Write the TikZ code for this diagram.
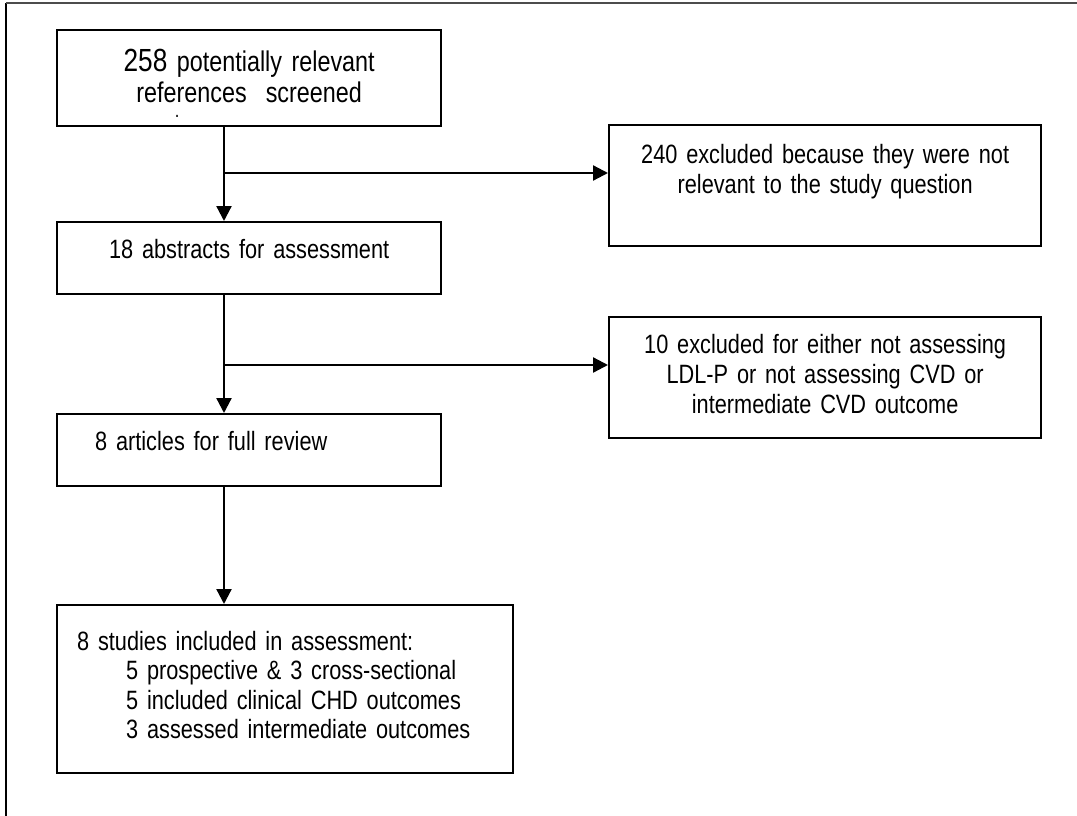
\documentclass[tikz,border=0pt]{standalone}
\usepackage{fontspec}
\setmainfont{Liberation Sans}[FakeStretch=0.82,WordSpace=0.85]
\usetikzlibrary{arrows.meta}

\tikzset{
    stage/.style={shape=rectangle,draw=black,line width=2.3pt,anchor=north west,
        inner sep=0pt,align=center,font=\fontsize{26.5}{30}\selectfont},
    stageleft/.style={stage,align=left}
}

\begin{document}
\begin{tikzpicture}[x=1pt,y=-1pt]
    \useasboundingbox (0,0) rectangle (1077,816);
    \draw[line width=2pt,black] (6,816) -- (6,3);
    \draw[line width=1.5pt,black!70] (6,3) -- (1077,3);

    \node[stage,text width=384pt,text height=41pt,text depth=55pt,
        font=\fontsize{28.5}{31}\selectfont] (screened) at (56,29)
        {{\fontsize{32}{31}\selectfont 258} potentially relevant\\references\ \ screened\\[-16pt]
        \hspace*{-144pt}{\fontsize{20}{20}\selectfont .}};
    \node[stage,text width=432pt,text height=38pt,text depth=83pt] (notrelevant) at (608,124)
        {240 excluded because they were not\\relevant to the study question};
    \node[stage,text width=384pt,text height=36pt,text depth=36pt] (abstracts) at (56,221)
        {18 abstracts for assessment};
    \node[stage,text width=432pt,text height=36pt,text depth=85pt] (notassessed) at (608,316)
        {10 excluded for either not assessing\\LDL-P or not assessing CVD or\\intermediate CVD outcome};
    \node[stageleft,inner xsep=38pt,text width=308pt,text height=36pt,text depth=36pt] (articles) at (56,413)
        {8 articles for full review};
    \node[stageleft,inner xsep=20pt,text width=416pt,text height=45pt,text depth=123pt,
        font=\fontsize{26.5}{29.5}\selectfont] (studies) at (56,604)
        {8 studies included in assessment:\\
        \hspace*{49pt}5 prospective \& 3 cross-sectional\\
        \hspace*{49pt}5 included clinical CHD outcomes\\
        \hspace*{49pt}3 assessed intermediate outcomes};

    \coordinate (split1) at (224,173);
    \coordinate (split2) at (224,365);
\begin{scope}[
              every edge/.style={draw=black,line width=2.3pt,-{Triangle[length=15pt,width=15pt]}}]
    \path (screened.south -| split1) edge (abstracts.north -| split1);
    \path (split1) edge (split1 -| notrelevant.west);
    \path (abstracts.south -| split2) edge (articles.north -| split2);
    \path (split2) edge (split2 -| notassessed.west);
    \path (articles.south -| split1) edge (studies.north -| split1);
\end{scope}

\end{tikzpicture}
\end{document}
